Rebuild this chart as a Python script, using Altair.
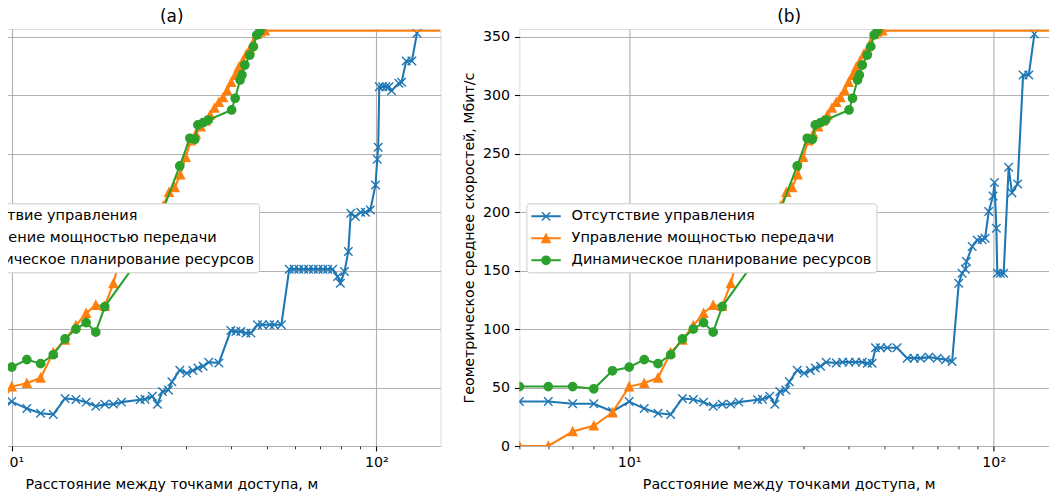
import altair as alt
import pandas as pd

SERIES = ["Отсутствие управления", "Управление мощностью передачи", "Динамическое планирование ресурсов"]
COLORS = ["#1f77b4", "#ff7f0e", "#2ca02c"]

# --- no control (blue): common start for both panels ---
blue_common_x = [5, 6, 7, 8, 9, 10, 11, 12, 13, 14, 15, 16, 17, 18, 19, 20, 22.5, 23.2, 24.3, 25.1,
                 25.9, 26.9, 27.5, 28.9, 30.2, 31.4, 32.4, 33.5, 34.7, 37]
blue_common_y = [38.0, 38.0, 36.1, 36.1, 29.5, 38.0, 32.0, 28.0, 27.0, 40.7, 39.8, 37.5, 34.0, 35.6, 35.8,
                 37.5, 39.5, 40.0, 42.5, 35.7, 46.6, 47.8, 55.0, 64.8, 62.3, 64.5, 66.6, 68.2, 71.7, 71.0]

# panel (a) continuation
blue_a_x = [39.9, 41.2, 42.5, 43.9, 45.3, 47.2, 48.7, 51.0, 52.5, 54.9, 57.7, 59.5, 61.3, 63.2, 65.2,
            67.2, 69.3, 71.4, 73.6, 75.9, 78.3, 79.7, 81.8, 83.8, 85.1, 87.6, 90.6, 93.4, 96.3, 99.5,
            100.6, 101.2, 101.9, 104.0, 106.2, 108.3, 110.1, 115.3, 117.3, 120.8, 125.2, 129.3]
blue_a_y = [98.7, 97.8, 97.8, 96.5, 96.5, 103.6, 103.6, 103.6, 103.6, 103.6, 151.2, 151.2, 151.2, 151.2,
            151.2, 151.2, 151.2, 151.2, 151.2, 151.2, 144.8, 139.2, 149.1, 166.2, 199.0, 196.1, 199.9,
            199.9, 201.8, 223.2, 245.1, 255.4, 307.2, 307.2, 307.2, 307.2, 303.8, 310.1, 311.0, 329.2,
            329.2, 352.8]

# panel (b) continuation
blue_b_x = [38.5, 40.1, 41.8, 43.6, 45.0, 46.4, 47.4, 48.9, 51.1, 54.3, 57.9, 60.5, 63.0, 66.4, 70.0,
            73.8, 76.9, 80.2, 81.9, 83.6, 84.2, 87.3, 90.1, 92.9, 94.7, 96.9, 99.6, 100.5, 101.7, 102.3,
            104.3, 106.5, 109.9, 112.2, 116.3, 120.4, 124.8, 129.3]
blue_b_y = [71.7, 71.7, 71.7, 71.7, 70.8, 70.8, 84.0, 84.0, 84.0, 84.0, 75.1, 75.1, 75.1, 76.0, 75.1,
            73.7, 72.2, 139.2, 147.7, 151.2, 157.7, 170.5, 176.2, 176.5, 177.6, 200.4, 213.8, 225.2,
            186.2, 147.7, 147.7, 147.7, 238.3, 216.6, 224.0, 317.2, 317.2, 352.2]

# --- transmit power control (orange) ---
orange_x = [5, 6, 7, 8, 9, 10, 11, 12, 13, 14, 15, 16, 17, 18, 19, 20, 21, 22, 23, 24, 25, 26, 27, 28,
            29, 30, 31, 32, 33, 34, 35, 36, 37, 38, 39, 40, 41, 42, 43, 44, 45, 46, 47, 48, 49.5]
orange_y = [0, 0, 12.4, 17.3, 28.6, 50.8, 53.7, 58.3, 79.9, 90.7, 103.0, 113.5, 120.5, 119.5, 139.0,
            166, 172, 178, 184, 190, 197, 205, 217, 221, 232, 247, 261, 267, 273, 278, 283, 289, 294,
            298, 304, 311, 317, 324, 329, 335, 339, 345, 352, 354, 355]
orange_tail_x = [150]
orange_tail_y = [355]

# --- dynamic resource scheduling (green) ---
green_x = [5, 6, 7, 8, 9, 10, 11, 12, 13, 14, 15, 16, 17, 18, 24, 28.9, 30.8, 31.8, 32.4, 33.5, 34.6,
           40.1, 41.0, 42.3, 42.8, 43.6, 45.0, 46.0, 47.0, 48.0]
green_y = [50.8, 50.8, 50.8, 48.9, 64.3, 67.4, 73.9, 70.4, 78.0, 91.5, 100.0, 105.5, 97.3, 119.2, 173.5,
           239.4, 263.1, 262.2, 274.5, 276.4, 278.7, 287.3, 297.3, 312.9, 317.2, 325.7, 334.2, 341.4,
           351.4, 355.0]

x_ticks = [5, 6, 7, 8, 9, 10, 20, 30, 40, 50, 60, 70, 80, 90, 100]
y_ticks = [0, 50, 100, 150, 200, 250, 300, 350]

FONT = "DejaVu Sans"
FS = 14.2
PLOT_W = 538.5
PLOT_H = 417

X_PATH = "M-1,-1L1,1M-1,1L1,-1"
TRI_PATH = "M0,-1L1,1L-1,1Z"
LINE_RECT = "M-2,-0.05H2V0.05H-2Z"
LEG_X = LINE_RECT + "M-0.593,-0.593L0.593,0.593M-0.593,0.593L0.593,-0.593"
LEG_TRI = LINE_RECT + "M0,-0.593L0.593,0.593L-0.593,0.593Z"
LEG_CIRC = LINE_RECT + ("M0.593,0C0.593,0.3275 0.3275,0.593 0,0.593C-0.3275,0.593 -0.593,0.3275 -0.593,0"
                        "C-0.593,-0.3275 -0.3275,-0.593 0,-0.593C0.3275,-0.593 0.593,-0.3275 0.593,0Z")

major = "datum.value == 10 || datum.value == 100"
x_axis = alt.Axis(
    orient="bottom", values=x_ticks,
    labelExpr="datum.value == 10 ? '10¹' : datum.value == 100 ? '10²' : ''",
    grid=True, gridColor="#b0b0b0", gridWidth=1.1,
    gridOpacity={"condition": {"test": major, "value": 1}, "value": 0},
    domain=False, tickColor="black",
    tickSize={"condition": {"test": major, "value": 4.9}, "value": 2.8},
    tickWidth={"condition": {"test": major, "value": 1.1}, "value": 0.8},
    labelFont=FONT, labelFontSize=FS, labelColor="black", labelPadding=5,
    labelFlush=False, labelOverlap=False,
    title="Расстояние между точками доступа, м", titleFont=FONT, titleFontSize=FS,
    titleFontWeight="normal", titleColor="black", titlePadding=7,
)
y_axis = alt.Axis(
    values=y_ticks, grid=True, gridColor="#b0b0b0", gridWidth=1.1, domain=False,
    tickColor="black", tickSize=4.9, tickWidth=1.1,
    labelFont=FONT, labelFontSize=FS, labelColor="black", labelPadding=4.9, labelFlush=False,
    title="Геометрическое среднее скоростей, Мбит/с", titleFont=FONT, titleFontSize=FS,
    titleFontWeight="normal", titleColor="black", titlePadding=6,
)
x_scale = alt.Scale(type="log", domain=[5, 150], nice=False)
y_scale = alt.Scale(domain=[0, 356.5], nice=False, zero=False)


def enc(chart, xaxis=None):
    return chart.encode(
        x=alt.X("x:Q", scale=x_scale, axis=xaxis),
        y=alt.Y("y:Q", scale=y_scale, axis=y_axis),
    )


def panel(bx, by, title):
    blue = pd.DataFrame({"x": bx, "y": by})
    orange = pd.DataFrame({"x": orange_x, "y": orange_y})
    orange_line = pd.DataFrame({"x": orange_x + orange_tail_x, "y": orange_y + orange_tail_y})
    green = pd.DataFrame({"x": green_x, "y": green_y})
    legend_df = pd.DataFrame({"series": SERIES, "x": [10, 10, 10], "y": [0, 0, 0]})

    layers = [
        enc(alt.Chart(blue).mark_line(color=COLORS[0], strokeWidth=2.08, clip=True), x_axis),
        enc(alt.Chart(blue).mark_point(shape=X_PATH, size=72, filled=False, stroke=COLORS[0],
                                       strokeWidth=1.4, opacity=1, clip=True)),
        enc(alt.Chart(orange_line).mark_line(color=COLORS[1], strokeWidth=2.08, clip=True)),
        enc(alt.Chart(orange).mark_point(shape=TRI_PATH, size=69, filled=True, fill=COLORS[1],
                                         stroke=COLORS[1], strokeWidth=1.4, opacity=1, clip=True)),
        enc(alt.Chart(green).mark_line(color=COLORS[2], strokeWidth=2.08, clip=True)),
        enc(alt.Chart(green).mark_point(shape="circle", size=69, filled=True, fill=COLORS[2],
                                        stroke=COLORS[2], strokeWidth=1.4, opacity=1, clip=True)),
    ]
    leg = alt.Legend(
        title=None, orient="none", legendX=7, legendY=174.3, direction="vertical",
        fillColor="white", strokeColor="#cccccc", cornerRadius=3, padding=5.0, rowPadding=7.0,
        symbolSize=196, symbolStrokeWidth=1.4, symbolOffset=6.65, labelOffset=17.5,
        labelFont=FONT, labelFontSize=FS + 0.3, labelColor="black", labelLimit=0,
    )
    top_axis = alt.Axis(
        orient="top", title=title, titleFont=FONT, titleFontSize=16.9, titleFontWeight="normal",
        titleColor="black", titlePadding=4, labels=False, ticks=False, domain=False, grid=False,
    )
    legend_layer = alt.Chart(legend_df).mark_point(filled=True, opacity=1, strokeWidth=1.4).encode(
        x=alt.X("x:Q", scale=x_scale, axis=top_axis),
        y=alt.Y("y:Q", scale=y_scale, axis=y_axis),
        fill=alt.Fill("series:N", scale=alt.Scale(domain=SERIES, range=COLORS), legend=leg),
        stroke=alt.Stroke("series:N", scale=alt.Scale(domain=SERIES, range=COLORS), legend=leg),
        shape=alt.Shape("series:N", scale=alt.Scale(domain=SERIES, range=[LEG_X, LEG_TRI, LEG_CIRC]),
                        legend=leg),
    ).transform_filter("false")
    layers.append(legend_layer)
    return alt.layer(*layers).resolve_axis(x="independent").properties(
        width=PLOT_W, height=PLOT_H,
    )


pa = panel(blue_common_x + blue_a_x, blue_common_y + blue_a_y, "(a)")
pb = panel(blue_common_x + blue_b_x, blue_common_y + blue_b_y, "(b)")

chart = alt.hconcat(pa, pb, spacing=20.4).resolve_scale(
    fill="independent", stroke="independent", shape="independent"
).resolve_legend(
    fill="independent", stroke="independent", shape="independent"
).properties(
    padding={"left": -164, "top": -2, "right": -10, "bottom": 0}
).configure_view(stroke="black", strokeWidth=1.1).configure(font=FONT)

chart.save("out.html", embed_options={"renderer": "svg", "actions": False})
